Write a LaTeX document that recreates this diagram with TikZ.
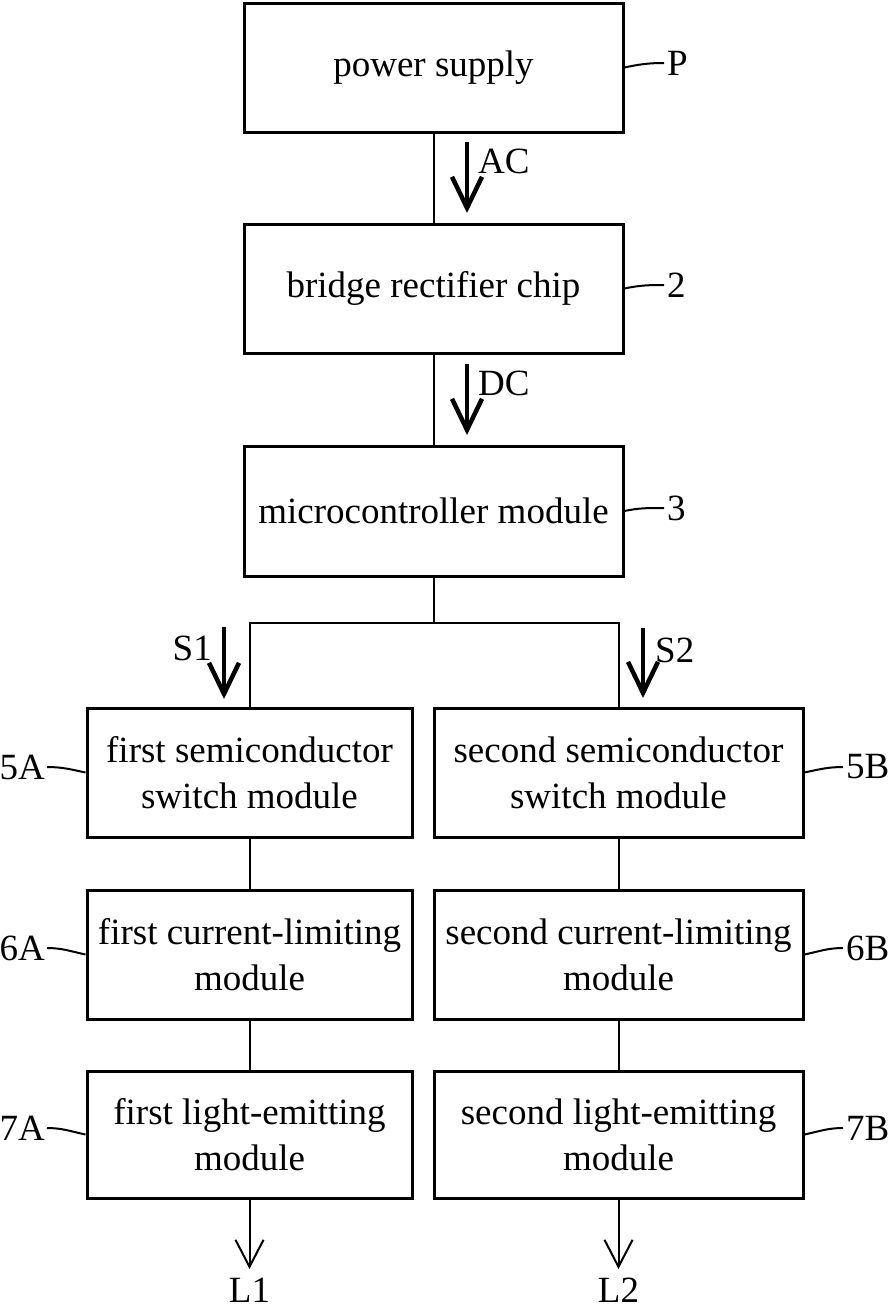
\documentclass[tikz,border=0pt]{standalone}
\usepackage{fontspec}
\setmainfont{Liberation Serif}
\usetikzlibrary{arrows.meta}
\begin{document}
\begin{tikzpicture}[x=1pt,y=-1pt,
  txt/.style={font=\fontsize{37}{46}\selectfont},
  box/.style={txt, draw, line width=3pt, inner sep=0pt, align=center},
  wide/.style={minimum width=379pt},
  colA/.style={minimum width=325pt},
  colB/.style={minimum width=369pt},
  wire/.style={line width=2pt},
  sig/.style={line width=4.5pt, -{Straight Barb[length=31pt,width=30pt]}},
  outarrow/.style={line width=2pt, -{Straight Barb[length=27pt,width=28pt]}},
  tag/.style={txt, inner sep=0pt},
  lead/.style={line width=2pt}]

\useasboundingbox (0,0) rectangle (890,1310);

% main chain
\node[box, wide, minimum height=129pt] (P) at (433.5,67.5) {power supply};
\node[box, wide, minimum height=129pt] (B) at (433.5,288.5) {bridge rectifier chip};
\node[box, wide, minimum height=130pt] (M) at (433.5,511) {microcontroller module};

% two output channels
\node[box, colA, minimum height=129pt] (S5A) at (249.5,772.5) {first semiconductor\\switch module};
\node[box, colB, minimum height=129pt] (S5B) at (618.5,772.5) {second semiconductor\\switch module};
\node[box, colA, minimum height=129pt] (C6A) at (249.5,954.5) {first current-limiting\\module};
\node[box, colB, minimum height=129pt] (C6B) at (618.5,954.5) {second current-limiting\\module};
\node[box, colA, minimum height=127pt] (L7A) at (249.5,1134.5) {first light-emitting\\module};
\node[box, colB, minimum height=127pt] (L7B) at (618.5,1134.5) {second light-emitting\\module};

% wiring
\draw[wire] (P) -- (B);
\draw[wire] (B) -- (M);
\coordinate (J) at (433.5,623);
\draw[wire] (M.south) -- (J);
\draw[wire] (J) -| (S5A.north);
\draw[wire] (J) -| (S5B.north);
\draw[wire] (S5A) -- (C6A);
\draw[wire] (C6A) -- (L7A);
\draw[wire] (S5B) -- (C6B);
\draw[wire] (C6B) -- (L7B);

% light outputs
\coordinate (o1) at (249.5,1269);
\coordinate (o2) at (618.5,1269);
\draw[outarrow] (L7A.south) -- (o1);
\draw[outarrow] (L7B.south) -- (o2);
\node[tag] (tL1) at (249.5,1290) {L1};
\node[tag] (tL2) at (618.5,1290) {L2};

% signal arrows
\coordinate (ac1) at (467,142);
\coordinate (ac2) at (467,213);
\draw[sig] (ac1) -- (ac2);
\node[tag, anchor=west] (tAC) at (478,161) {AC};
\coordinate (dc1) at (467,364);
\coordinate (dc2) at (467,435);
\draw[sig] (dc1) -- (dc2);
\node[tag, anchor=west] (tDC) at (478,383) {DC};
\coordinate (s1a) at (224,627);
\coordinate (s1b) at (224,699);
\draw[sig] (s1a) -- (s1b);
\node[tag, anchor=east] (tS1) at (212,648) {S1};
\coordinate (s2a) at (643,628);
\coordinate (s2b) at (643,698);
\draw[sig] (s2a) -- (s2b);
\node[tag, anchor=west] (tS2) at (655,650) {S2};

% reference numerals
\node[tag, anchor=west] (tP) at (667,63) {P};
\node[tag, anchor=west] (t2) at (667,285) {2};
\node[tag, anchor=west] (t3) at (667,508) {3};
\draw[lead] (P.east) to[out=12,in=180] ([xshift=-3pt]tP.west);
\draw[lead] (B.east) to[out=12,in=180] ([xshift=-3pt]t2.west);
\draw[lead] (M.east) to[out=12,in=180] ([xshift=-3pt]t3.west);

\node[tag, anchor=east] (t5A) at (45,767) {5A};
\node[tag, anchor=east] (t6A) at (45,948) {6A};
\node[tag, anchor=east] (t7A) at (45,1128) {7A};
\draw[lead] ([xshift=2pt]t5A.east) to[out=0,in=168] (S5A.west);
\draw[lead] ([xshift=2pt]t6A.east) to[out=0,in=168] (C6A.west);
\draw[lead] ([xshift=2pt]t7A.east) to[out=0,in=168] (L7A.west);

\node[tag, anchor=west] (t5B) at (846,767) {5B};
\node[tag, anchor=west] (t6B) at (846,948) {6B};
\node[tag, anchor=west] (t7B) at (846,1128) {7B};
\draw[lead] (S5B.east) to[out=12,in=180] ([xshift=-3pt]t5B.west);
\draw[lead] (C6B.east) to[out=12,in=180] ([xshift=-3pt]t6B.west);
\draw[lead] (L7B.east) to[out=12,in=180] ([xshift=-3pt]t7B.west);
\end{tikzpicture}
\end{document}
